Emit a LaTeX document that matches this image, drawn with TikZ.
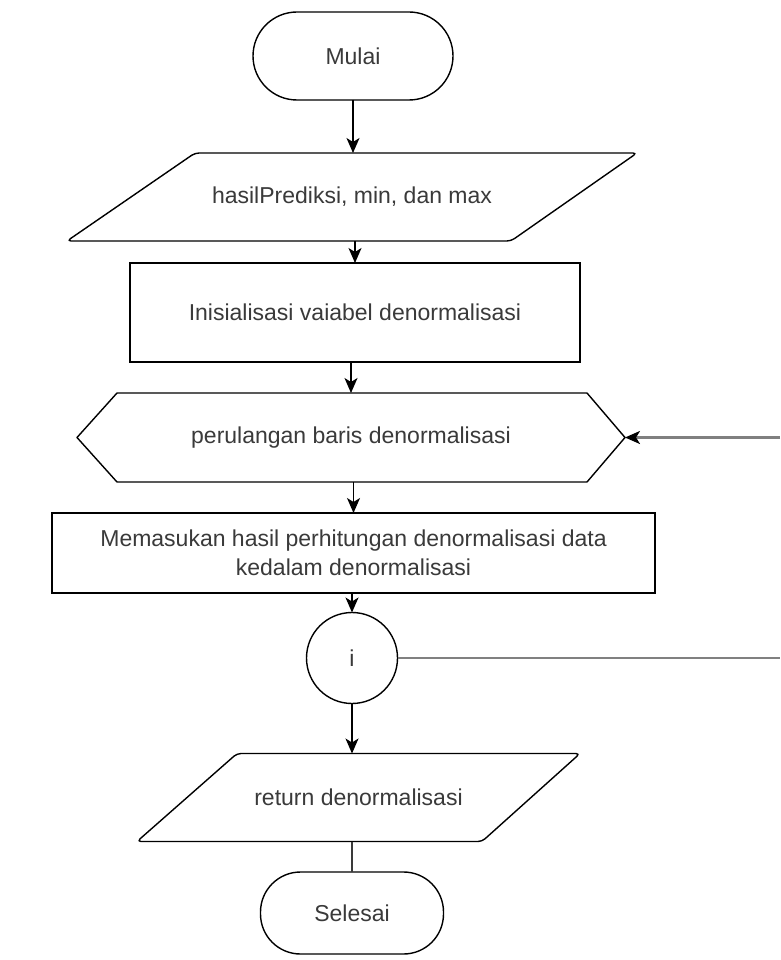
\documentclass[tikz,border=0pt]{standalone}
\usepackage{fontspec}
\setmainfont{Liberation Sans}
\usetikzlibrary{arrows.meta,calc}
\definecolor{txt}{HTML}{3A3A3A}
\definecolor{loopgray}{HTML}{808080}
\begin{document}
\begin{tikzpicture}[x=1pt,y=-1pt,
  label font/.style={font=\fontsize{23}{29}\selectfont, text=txt, align=center},
  box/.style={label font, draw=black, line width=1.4pt, inner sep=0pt, outer sep=0pt},
  plain/.style={label font, inner sep=0pt, outer sep=0pt},
  outline/.style={draw=black, line width=1.4pt, line join=round},
  headtip/.style={-{Stealth[length=15pt,width=13pt,inset=4pt,color=black]}},
  flow/.style={draw=black, line width=1.4pt, headtip},
  loopline/.style={draw=loopgray, line width=2.4pt}
]
\useasboundingbox (0,0) rectangle (780,960);
\fill[white] (0,0) rectangle (780,960);

% start terminal
\node[box, rounded corners=44pt, minimum width=200pt, minimum height=88pt] (mulai) at (353,56) {Mulai};

% input parallelogram
\node[plain, minimum width=570pt, minimum height=88pt] (input) at (352,197) {hasilPrediksi, min, dan max};
\draw[outline, rounded corners=4pt] (input.south west) -- ([xshift=128pt]input.north west)
  -- (input.north east) -- ([xshift=-126pt]input.south east) -- cycle;

% initialisation
\node[box, minimum width=450pt, minimum height=99pt] (init) at (355,312.5) {Inisialisasi vaiabel denormalisasi};

% loop header (hexagon)
\node[plain, minimum width=548pt, minimum height=89pt] (loop) at (351,437.5) {perulangan baris denormalisasi};
\draw[outline] (loop.west) -- ([xshift=40pt]loop.north west) -- ([xshift=-38pt]loop.north east)
  -- (loop.east) -- ([xshift=-38pt]loop.south east) -- ([xshift=40pt]loop.south west) -- cycle;

% loop body
\node[box, minimum width=603pt, minimum height=80pt] (proc) at (353.5,553)
  {Memasukan hasil perhitungan denormalisasi data\\kedalam denormalisasi};

% loop counter
\node[box, circle, minimum size=91pt] (iter) at (352,658) {i};

% output parallelogram
\node[plain, minimum width=443pt, minimum height=88pt] (output) at (358.5,797.5) {return denormalisasi};
\draw[outline, rounded corners=4pt] (output.south west) -- ([xshift=100pt]output.north west)
  -- (output.north east) -- ([xshift=-98pt]output.south east) -- cycle;

% end terminal
\node[box, rounded corners=40pt, minimum width=183pt, minimum height=82pt] (selesai) at (352,913) {Selesai};

% main flow
\draw[flow] (mulai.south) -- (mulai.south |- input.north);
\draw[flow] (init.north |- input.south) -- (init.north);
\draw[flow] (loop.north |- init.south) -- (loop.north);
\draw[flow] (proc.north |- loop.south) -- (proc.north);
\draw[flow] (iter.north |- proc.south) -- (iter.north);
\draw[flow] (iter.south) -- (iter.south |- output.north);
\draw[draw=txt, line width=1.4pt] (selesai.north |- output.south) -- (selesai.north);

% loop-back lines
\coordinate (iterR) at (780,658);
\coordinate (backR) at (780,437.5);
\draw[loopline] (iter.east) -- (iterR);
\draw[loopline, headtip] (backR) -- (loop.east);
\end{tikzpicture}
\end{document}
